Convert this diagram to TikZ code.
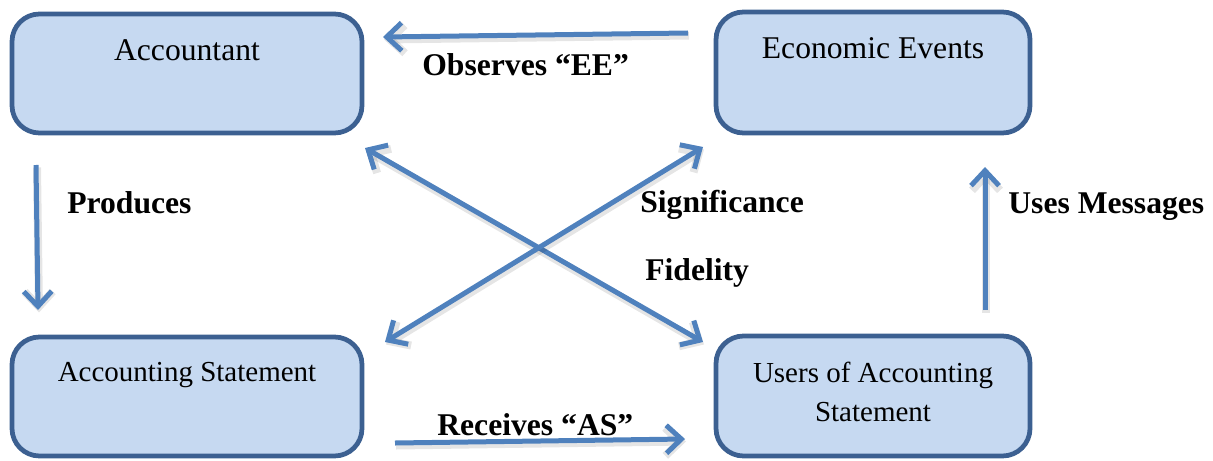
\documentclass[tikz,border=0pt]{standalone}
\usepackage{fontspec}
\setmainfont{Liberation Serif}
\usepackage{tikz}
\usetikzlibrary{arrows.meta,positioning}
\usepackage{color}
\definecolor{boxfill}{HTML}{C6D9F1}
\definecolor{boxline}{HTML}{3C6091}
\definecolor{flowblue}{HTML}{4F81BD}

\begin{document}
\begin{tikzpicture}[
    box/.style={draw=boxline, fill=boxfill, line width=0.095cm, rounded corners=0.55cm, outer sep=0pt, inner sep=0pt},
    bigtext/.style={inner sep=0pt, align=center, font=\fontsize{18}{21.6}\selectfont},
    smalltext/.style={inner sep=0pt, align=center, font=\fontsize{16.5}{22}\selectfont},
    flowlabel/.style={inner sep=0pt, anchor=base west, font=\fontsize{18}{21.6}\selectfont\bfseries},
    flow/.style={draw=flowblue, line width=0.1cm, -{Straight Barb[length=0.3cm,width=0.56cm]},
      preaction={draw=black, draw opacity=0.1, line width=0.16cm, transform canvas={shift={(0.02cm,-0.05cm)}}}},
    twoway/.style={flow, {Straight Barb[length=0.3cm,width=0.56cm]}-{Straight Barb[length=0.3cm,width=0.56cm]}}
  ]
  \useasboundingbox (0,0) rectangle (24.26,9.2);

  % boxes
  \node[box, minimum width=7cm, minimum height=2.38cm] (acct) at (3.74,7.73) {};
  \node[box, minimum width=6.28cm, minimum height=2.42cm] (events) at (17.46,7.75) {};
  \node[box, minimum width=7cm, minimum height=2.38cm] (stmt) at (3.74,1.27) {};
  \node[box, minimum width=6.28cm, minimum height=2.4cm] (users) at (17.46,1.28) {};

  % box texts
  \node[bigtext, below=0.5cm of acct.north] (accttext) {Accountant};
  \node[bigtext, below=0.5cm of events.north] (eventstext) {Economic Events};
  \node[smalltext, below=0.5cm of stmt.north] (stmttext) {Accounting Statement};
  \node[smalltext, below=0.52cm of users.north] (userstext) {Users of Accounting\\Statement};

  % draw arrows
  \draw[flow] ([xshift=-0.56cm,yshift=-0.42cm]events.north west) -- ([xshift=0.42cm,yshift=-0.46cm]acct.north east);
  \draw[flow] ([xshift=0.48cm,yshift=-0.64cm]acct.south west) -- ([xshift=0.52cm,yshift=0.54cm]stmt.north west);
  \draw[flow] ([xshift=0.66cm,yshift=0.26cm]stmt.south east) -- ([xshift=-0.62cm,yshift=0.34cm]users.south west);
  \draw[flow] ([xshift=-0.9cm,yshift=0.52cm]users.north east) -- ([xshift=-0.9cm,yshift=-0.68cm]events.south east);
  \draw[twoway] ([xshift=0.06cm,yshift=-0.3cm]acct.south east) -- ([xshift=-0.26cm,yshift=-0.12cm]users.north west);
  \draw[twoway] ([xshift=0.46cm,yshift=-0.1cm]stmt.north east) -- ([xshift=-0.26cm,yshift=-0.28cm]events.south west);

  % labels
  \node[flowlabel] (observes) at (8.44,7.70) {Observes “EE”};
  \node[flowlabel] (produces) at (1.34,4.94) {Produces};
  \node[flowlabel] (usesmsg) at (20.16,4.94) {Uses Messages};
  \node[flowlabel] (signif) at (12.8,4.96) {Significance};
  \node[flowlabel] (fidelity) at (12.9,3.6) {Fidelity};
  \node[flowlabel] (receives) at (8.74,0.5) {Receives “AS”};
\end{tikzpicture}
\end{document}
